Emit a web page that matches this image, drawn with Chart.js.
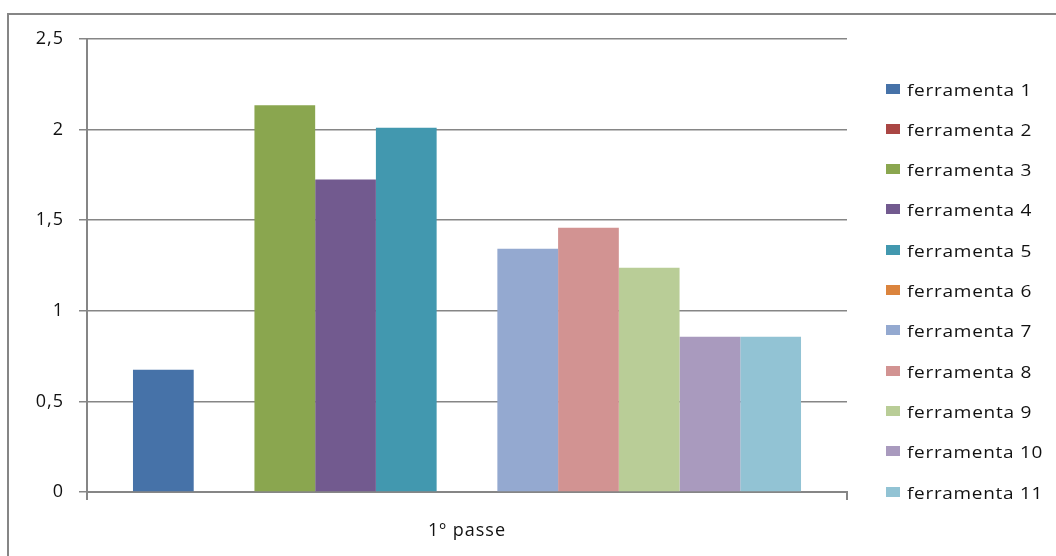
<!DOCTYPE html>
<html>
<head>
<meta charset="utf-8">
<script src="https://cdn.jsdelivr.net/npm/chart.js@4"></script>
<style>
  html, body { margin: 0; padding: 0; background: #fff; overflow: hidden; }
  #wrap { width: 1056px; height: 556px; }
</style>
</head>
<body>
<div id="wrap"><canvas id="chart" width="1056" height="556"></canvas></div>
<script>
// Category, series and values
const categories = ['1º passe'];
const seriesNames = [
  'ferramenta 1', 'ferramenta 2', 'ferramenta 3', 'ferramenta 4',
  'ferramenta 5', 'ferramenta 6', 'ferramenta 7', 'ferramenta 8',
  'ferramenta 9', 'ferramenta 10', 'ferramenta 11'
];
const seriesValues = [0.675, null, 2.135, 1.724, 2.01, null, 1.343, 1.459, 1.238, 0.857, 0.857];
const seriesColors = [
  '#4672A8', '#AA4644', '#8AA64F', '#725A8F', '#4298AF', '#DB843D',
  '#94A9D0', '#D29392', '#B9CD97', '#A99ABE', '#92C3D4'
];
const yTicks = { min: 0, max: 2.5, step: 0.5 };

const FONT = 'Open Sans';
const GREY = '#868686';

// Outer frame and text spacing
const framePlugin = {
  id: 'frame',
  beforeDraw(chart) {
    const ctx = chart.ctx;
    ctx.letterSpacing = '1px';
    ctx.save();
    ctx.strokeStyle = GREY;
    ctx.lineWidth = 2;
    ctx.beginPath();
    ctx.moveTo(8, 600);
    ctx.lineTo(8, 14);
    ctx.lineTo(1100, 14);
    ctx.stroke();
    ctx.restore();
  }
};

// Legend column on the right, text slightly widened
const legendPlugin = {
  id: 'sideLegend',
  afterDraw(chart) {
    const ctx = chart.ctx;
    ctx.save();
    ctx.font = '16px "' + FONT + '"';
    ctx.letterSpacing = '0.6px';
    ctx.textAlign = 'left';
    ctx.textBaseline = 'alphabetic';
    chart.data.datasets.forEach((ds, i) => {
      const cy = 88.5 + i * 40.3;
      ctx.fillStyle = ds.backgroundColor;
      ctx.fillRect(886, Math.round(cy - 5), 14, 10);
      ctx.fillStyle = '#111';
      ctx.save();
      ctx.translate(907, cy + 7);
      const w = ctx.measureText(ds.label).width;
      const target = ds.label.length > 12 ? 136 : 125;
      ctx.scale(Math.min(1.35, target / w), 1);
      ctx.fillText(ds.label, 0, 0);
      ctx.restore();
    });
    ctx.restore();
  }
};

new Chart(document.getElementById('chart'), {
  type: 'bar',
  data: {
    labels: categories,
    datasets: seriesNames.map((name, i) => ({
      label: name,
      data: [seriesValues[i]],
      backgroundColor: seriesColors[i],
      borderWidth: 0,
      categoryPercentage: 0.879,
      barPercentage: 1.0
    }))
  },
  options: {
    responsive: false,
    animation: false,
    devicePixelRatio: 1,
    layout: { padding: { left: 0, right: 209, top: 39, bottom: 0 } },
    plugins: {
      legend: { display: false },
      tooltip: { enabled: false }
    },
    scales: {
      x: {
        grid: {
          display: true,
          drawOnChartArea: false,
          offset: true,
          color: GREY,
          lineWidth: 2,
          tickLength: 8
        },
        border: { color: GREY, width: 2 },
        ticks: {
          color: '#111',
          font: { family: FONT, size: 18 },
          padding: 20
        },
        afterFit(scale) { scale.height = 64; }
      },
      y: {
        min: yTicks.min,
        max: yTicks.max,
        grid: { color: GREY, lineWidth: 1.5, tickLength: 8 },
        border: { color: GREY, width: 2 },
        ticks: {
          stepSize: yTicks.step,
          color: '#111',
          font: { family: FONT, size: 18 },
          padding: 15,
          callback: v => String(v).replace('.', ',')
        },
        afterFit(scale) { scale.width = 87; }
      }
    }
  },
  plugins: [framePlugin, legendPlugin]
});
</script>
</body>
</html>
